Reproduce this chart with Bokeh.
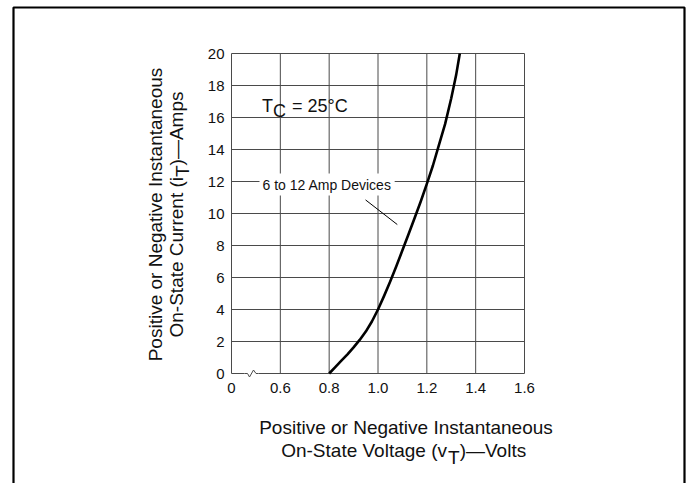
import math
from bokeh.plotting import figure
from bokeh.models import FixedTicker, Label, LinearAxis, Range1d
from bokeh.embed import file_html
from bokeh.resources import INLINE

# ---- data ----
voltage = [0.800, 0.825, 0.850, 0.875, 0.900, 0.925, 0.950, 0.975, 1.000, 1.025, 1.050,
           1.075, 1.100, 1.125, 1.150, 1.175, 1.200, 1.225, 1.250, 1.275, 1.300, 1.320, 1.335]
current = [0.0, 0.4, 0.8, 1.2, 1.63, 2.1, 2.62, 3.25, 4.0, 4.85, 5.75,
           6.7, 7.7, 8.7, 9.72, 10.75, 11.85, 13.0, 14.3, 15.6, 17.2, 18.65, 20.0]
x_ticks = [0.4, 0.6, 0.8, 1.0, 1.2, 1.4, 1.6]
x_tick_labels = ["0", "0.6", "0.8", "1.0", "1.2", "1.4", "1.6"]
y_ticks = [0, 2, 4, 6, 8, 10, 12, 14, 16, 18, 20]
leader_v = [0.949, 1.079]
leader_i = [10.85, 9.31]

FONT = "Liberation Sans"
INK = "#111111"
GRID = "#4a4a4a"

W, H = 688, 483
FL, FR, FT, FB = 231, 524, 53, 373  # chart box in canvas px
X0, X1 = x_ticks[0], x_ticks[-1]
Y0, Y1 = y_ticks[0], y_ticks[-1]

def dx(px):
    return X0 + (px - FL) * (X1 - X0) / (FR - FL)
def dy(py):
    return Y0 + (FB - py) * (Y1 - Y0) / (FB - FT)

HW = {' ': 278, '(': 333, ')': 333, '-': 333, '.': 278, '=': 584, '°': 400, '—': 1000,
      'A': 667, 'C': 722, 'D': 722, 'I': 278, 'N': 722, 'O': 778, 'P': 667, 'S': 667,
      'T': 611, 'V': 667, 'a': 556, 'b': 556, 'c': 500, 'd': 556, 'e': 556, 'f': 278,
      'g': 556, 'h': 556, 'i': 222, 'j': 222, 'k': 500, 'l': 222, 'm': 833, 'n': 556,
      'o': 556, 'p': 556, 'q': 556, 'r': 333, 's': 500, 't': 278, 'u': 556, 'v': 500,
      'w': 722, 'x': 500, 'y': 500, 'z': 500}
for d in "0123456789":
    HW[d] = 556
def tw(s, size):
    return sum(HW.get(c, 556) for c in s) * size / 1000.0

# the frame spans the whole canvas; the chart box is drawn inside it
p = figure(width=W, height=H, output_backend="svg", toolbar_location=None,
           x_axis_type=None, y_axis_type=None,
           x_range=Range1d(dx(0), dx(W)), y_range=Range1d(dy(H), dy(0)))
p.min_border = 0
p.min_border_left = p.min_border_right = p.min_border_top = p.min_border_bottom = 0
p.title.visible = False
p.background_fill_color = "white"
p.border_fill_color = "white"
p.outline_line_color = None

xax = LinearAxis(ticker=FixedTicker(ticks=x_ticks), fixed_location=Y0, bounds=(X0, X1),
                 major_label_overrides={t: l for t, l in zip(x_ticks, x_tick_labels)})
yax = LinearAxis(ticker=FixedTicker(ticks=y_ticks), fixed_location=X0, bounds=(Y0, Y1))
for ax in (xax, yax):
    ax.axis_line_color = None
    ax.major_tick_line_color = None
    ax.minor_tick_line_color = None
    ax.major_tick_out = 0
    ax.major_tick_in = 0
    ax.minor_tick_out = 0
    ax.major_label_text_font = FONT
    ax.major_label_text_font_size = "15px"
    ax.major_label_text_color = INK
xax.major_label_standoff = 9
yax.major_label_standoff = 7
p.add_layout(xax, "below")
p.add_layout(yax, "left")

# grid lines (including the chart box edges) at the tick positions
p.segment(x0=x_ticks, y0=[Y0] * len(x_ticks), x1=x_ticks, y1=[Y1] * len(x_ticks),
          line_color=GRID, line_width=1)
p.segment(x0=[X0] * len(y_ticks), y0=y_ticks, x1=[X1] * len(y_ticks), y1=y_ticks,
          line_color=GRID, line_width=1)

# axis break mark on the bottom edge
p.line([dx(244), dx(258)], [Y0, Y0], line_color="white", line_width=3)
zx = [244, 247, 249, 253, 255.5, 258]
zy = [373, 373, 376.5, 369.5, 373, 373]
p.line([dx(v) for v in zx], [dy(v) for v in zy], line_color=GRID, line_width=1)

# curve and leader line
p.line(voltage, current, line_color="black", line_width=2.6, line_join="round")
p.line(leader_v, leader_i, line_color="black", line_width=1)

# outer frame (left, top, right; open at bottom)
p.line([dx(v) for v in [13, 13, 684, 684]], [dy(v) for v in [490, 7, 7, 490]],
       line_color="black", line_width=2.2)


def lab(text, px, py, size, angle=0.0, align="left", baseline="alphabetic", **kw):
    # empirical correction so that the alphabetic baseline lands on (px, py)
    if baseline == "alphabetic":
        k = 0.36 * size
        if angle:
            px -= k
        else:
            py -= k
    p.add_layout(Label(x=X0, y=Y0, x_offset=px - FL, y_offset=FB - py, text=text,
                       text_font=FONT, text_font_size=f"{size}px", angle=angle,
                       text_align=align, text_baseline=baseline, text_color=INK, **kw))

# T_C = 25°C
s = 18
lab("T", 261.5, 111.7, s)
lab("C", 261.5 + tw("T", s), 117.3, s)
lab("= 25°C", 291.5, 111.7, s)

# device label with white background over the grid line
lab("6 to 12 Amp Devices", 259, 184, 14, baseline="middle",
    background_fill_color="white", padding=3)

# x axis title
s = 19
lab("Positive or Negative Instantaneous", 405.5, 434.3, s, align="center")
a, b, c = "On-State Voltage (v", "T", ")—Volts"
tot = tw(a, s) + tw(b, s) + tw(c, s)
x0 = 403.7 - tot / 2
lab(a, x0, 456.5, s)
lab(b, x0 + tw(a, s), 463.5, s)
lab(c, x0 + tw(a, s) + tw(b, s), 456.5, s)

# y axis title (rotated)
ang = math.pi / 2
lab("Positive or Negative Instantaneous", 162, 214, s, angle=ang, align="center")
a, b, c = "On-State Current (i", "T", ")—Amps"
tot = tw(a, s) + tw(b, s) + tw(c, s)
y0 = 214 + tot / 2
lab(a, 182.5, y0, s, angle=ang)
lab(b, 188.5, y0 - tw(a, s), s, angle=ang)
lab(c, 182.5, y0 - tw(a, s) - tw(b, s), s, angle=ang)

open("out.html", "w").write(file_html(p, INLINE))
